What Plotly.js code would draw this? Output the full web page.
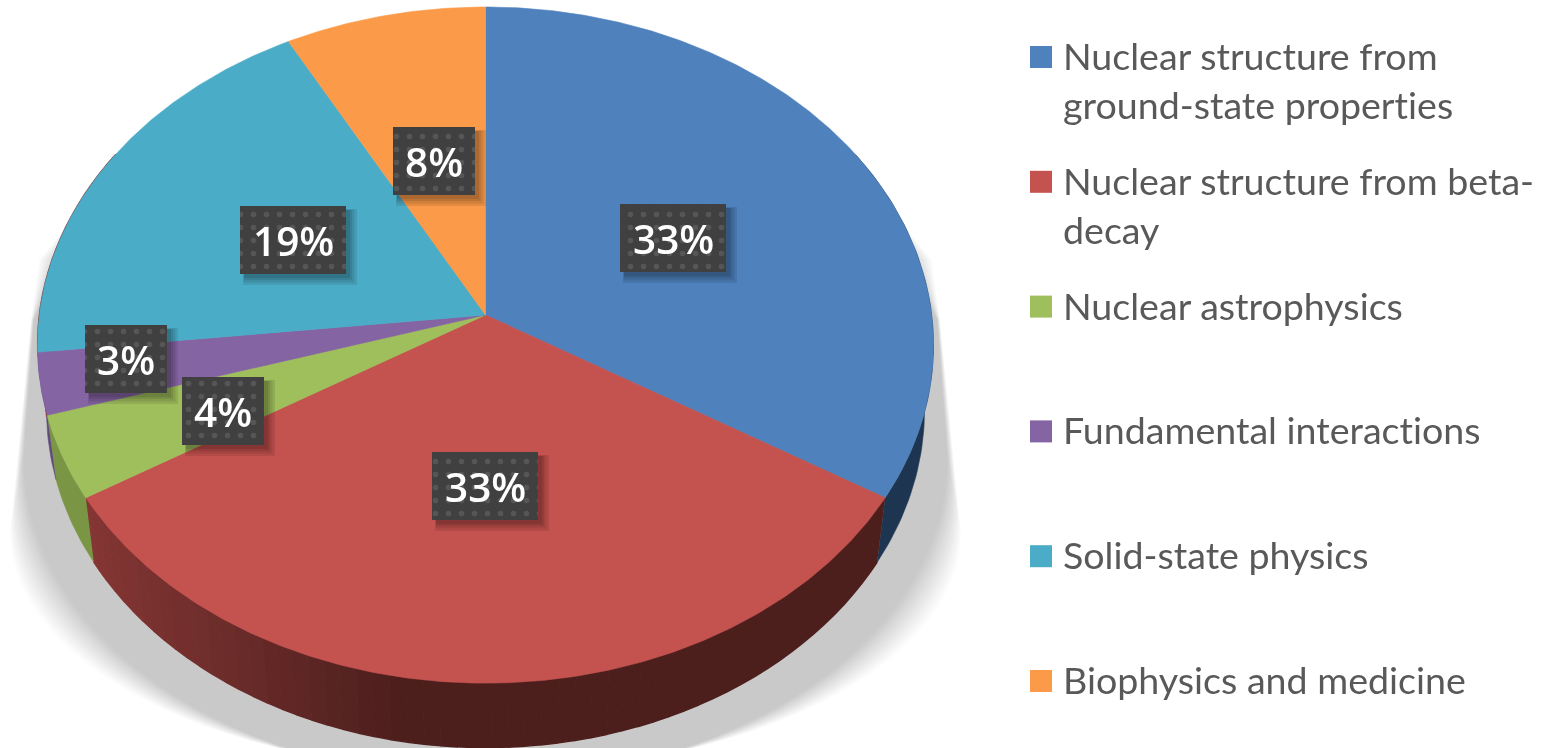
<!DOCTYPE html>
<html>
<head>
<meta charset="utf-8">
<script src="https://cdn.plot.ly/plotly-3.0.1.min.js"></script>
<style>html,body{margin:0;padding:0;background:#fff;overflow:hidden}#chart{width:1550px;height:748px;filter:blur(0.55px)}
svg text,svg tspan{font-variant-ligatures:none !important;font-feature-settings:"liga" 0,"clig" 0,"dlig" 0 !important}</style>
</head>
<body>
<div id="chart"></div>
<script>
// ---- data ----
const categories = ['Nuclear structure from<br>ground-state properties','Nuclear structure from beta-<br>decay','Nuclear astrophysics','Fundamental interactions','Solid-state physics','Biophysics and medicine'];
const shares = [33.7, 32.6, 4.0, 2.95, 18.85, 7.9];
const shareLabels = ['33%','33%','4%','3%','19%','8%'];

// ---- styles and layout constants ----
const topColors  = ['#4f81bc','#c4524f','#9fbf5c','#8564a4','#4bacc7','#fb9a49'];
const wallColors = ['#1e3552',null,'#7a9644','#5f4a7d',null,null];
const labelCentres = [[673,238],[485,486],[223,411],[126,359],[293,240],[434,161]];
const legendX = 1041, legendTextX = 1064, legendFirstY = 57, legendStep = 124.8;

// pixel-space projection of the tilted disc
const cx = 485.5, apexY = 315, R = 446.2, A = 335.4, k = 0.089, wallDrop = 64.5, wallScale = 0.98;
function proj(deg, lower){
  const t = deg*Math.PI/180, u = Math.sin(t), v = Math.cos(t), d = 1 + k*v;
  const px = R*u/d, py = -A*v/d;
  return lower ? [cx + wallScale*px, apexY + py + wallDrop] : [cx + px, apexY + py];
}
function hex(c){return [1,3,5].map(i=>parseInt(c.substr(i,2),16));}
function mix(a,b,t){const x=hex(a),y=hex(b);return 'rgb('+x.map((v,i)=>Math.round(v+(y[i]-v)*t)).join(',')+')';}

const traces = [];
function poly(xs,ys,color,lw,extra){
  traces.push(Object.assign({type:'scatter',mode:'lines',x:xs,y:ys,fill:'toself',fillcolor:color,
    line:{color:color,width:lw===undefined?0.6:lw},hoverinfo:'skip',showlegend:false},extra||{}));
}

// cast shadow: stacked soft layers from the outer edge inwards
const shadowLayers = 20;
const rimX = y => cx - 448*Math.sqrt(1-Math.pow((y-345)/338,2)) + 3;
for(let i=0;i<shadowLayers;i++){
  const t=(i+1)/shadowLayers, xs=[], ys=[];
  const rx=476-14*t, ry=235+85*t, cy=537-78*t;
  const topY=215+40*t, upX=38+22*t, midX=31+3*t;
  const left=[[150,200],[rimX(topY),topY],[upX,260],[midX,320]];
  left.forEach(p=>{xs.push(p[0]);ys.push(p[1]);});
  for(let a=180;a>=0;a-=3){
    const r=a*Math.PI/180;
    xs.push(cx+rx*Math.cos(r)); ys.push(cy+ry*Math.sin(r));
  }
  left.slice().reverse().forEach(p=>{xs.push(2*cx-p[0]);ys.push(p[1]);});
  poly(xs,ys,mix('#ffffff','#c9c9c9',t),0);
}

// slice boundaries from the shares
const total = shares.reduce((a,b)=>a+b,0);
const bounds=[0];
shares.forEach(s=>bounds.push(bounds[bounds.length-1]+s/total*360));

// walls
function wallStrip(a,b,color,lw){
  const xs=[],ys=[];
  const n=Math.max(1,Math.ceil(b-a));
  for(let i=0;i<=n;i++){const p=proj(a+(b-a)*i/n,false);xs.push(p[0]);ys.push(p[1]);}
  for(let i=n;i>=0;i--){const p=proj(a+(b-a)*i/n,true);xs.push(p[0]);ys.push(p[1]);}
  poly(xs,ys,color,lw);
}
shares.forEach((s,i)=>{
  const a=Math.max(bounds[i],60), b=Math.min(bounds[i+1],300);
  if(b<=a) return;
  if(wallColors[i]){ wallStrip(a,b,wallColors[i],0.6); return; }
  const step=2;
  for(let d=a;d<b;d+=step){
    const e=Math.min(d+step,b), x=proj((d+e)/2,true)[0];
    const t=Math.min(1,Math.max(0,(x-95)/(400-95)));
    wallStrip(d,e,mix('#843634','#4c1f1d',t),1.3);
  }
});

// top faces
shares.forEach((s,i)=>{
  const xs=[cx],ys=[apexY],a=bounds[i],b=bounds[i+1],n=Math.ceil(b-a)*2;
  for(let j=0;j<=n;j++){const p=proj(a+(b-a)*j/n,false);xs.push(p[0]);ys.push(p[1]);}
  xs.push(cx);ys.push(apexY);
  poly(xs,ys,topColors[i],0.6,{name:categories[i].replace('<br>',' ')});
});

// data-label boxes
const annotations=[];
shareLabels.forEach((lab,i)=>{
  const w = lab.length>2?106:82, h=68, c=labelCentres[i];
  const box=(ox,oy,grow)=>[
    [c[0]-w/2+ox-grow,c[0]+w/2+ox+grow,c[0]+w/2+ox+grow,c[0]-w/2+ox-grow,c[0]-w/2+ox-grow],
    [c[1]-h/2+oy-grow,c[1]-h/2+oy-grow,c[1]+h/2+oy+grow,c[1]+h/2+oy+grow,c[1]-h/2+oy-grow]];
  [[7,4],[6,2.5],[5,1],[4,0]].forEach(g=>{
    const r=box(g[0],g[0],g[1]);
    traces.push({type:'scatter',mode:'none',x:r[0],y:r[1],fill:'toself',fillcolor:'rgba(0,0,0,0.09)',hoverinfo:'skip',showlegend:false});
  });
  const r=box(0,0,0);
  traces.push({type:'scatter',mode:'none',x:r[0],y:r[1],fill:'toself',fillcolor:'#404040',
    fillpattern:{shape:'.',fgcolor:'#565656',bgcolor:'#404040',size:13,solidity:0.14},
    hoverinfo:'skip',showlegend:false});
  annotations.push({x:c[0],y:c[1],xref:'x',yref:'y',text:lab,showarrow:false,xanchor:'center',yanchor:'middle',
    font:{family:'"Open Sans", sans-serif',size:40.5,color:'#ffffff',weight:600}});
});

// legend built on the same axes
const legendY = categories.map((_,i)=>legendFirstY+i*legendStep);
traces.push({type:'scatter',mode:'markers',x:categories.map(()=>legendX),y:legendY,
  marker:{symbol:'square',size:22,color:topColors,line:{width:0}},hoverinfo:'skip',showlegend:false});
categories.forEach((c,i)=>{
  annotations.push({x:legendTextX,y:legendY[i]-26,xref:'x',yref:'y',text:c,showarrow:false,xanchor:'left',yanchor:'top',align:'left',
    xshift:-3,font:{family:'Lato, sans-serif',size:37.6,color:'#595959'}});
});

const layout={width:1550,height:748,margin:{l:0,r:0,t:0,b:0},paper_bgcolor:'#fff',plot_bgcolor:'#fff',showlegend:false,
  xaxis:{range:[0,1550],visible:false,fixedrange:true},
  yaxis:{range:[748,0],visible:false,fixedrange:true},
  annotations:annotations};
Plotly.newPlot('chart',traces,layout,{displayModeBar:false,staticPlot:true});
</script>
</body>
</html>
